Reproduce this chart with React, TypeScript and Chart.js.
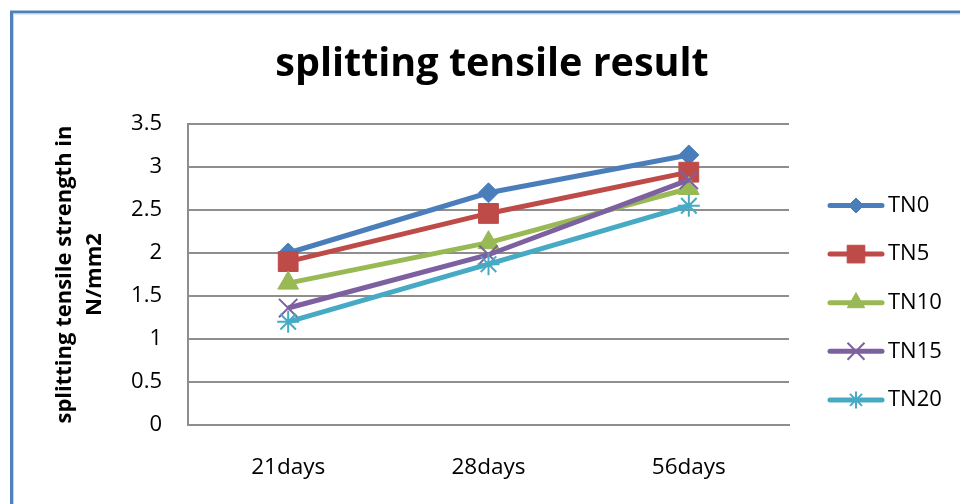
import React, { useEffect, useRef } from "react";
import { Chart, registerables } from "chart.js";
import { drawPoint } from "chart.js/helpers";

Chart.register(...registerables);

const categories = ["21days", "28days", "56days"];
const seriesNames = ["TN0", "TN5", "TN10", "TN15", "TN20"];
const TN0 = [2.0, 2.7, 3.14];
const TN5 = [1.9, 2.46, 2.94];
const TN10 = [1.65, 2.12, 2.75];
const TN15 = [1.36, 1.98, 2.85];
const TN20 = [1.2, 1.87, 2.55];
const yTicks = { min: 0, max: 3.5, step: 0.5 };
const chartTitle = "splitting tensile result";
const yTitle = ["splitting tensile strength in", "N/mm2"];

const colors = ["#4A7EBB", "#BE4B48", "#98B954", "#7D60A0", "#46AAC5"];
const styles = ["rectRot", "rect", "triangle", "crossRot", "star"];
const radii = [10, 14, 12, 13, 11];
const legendRadii = [7.5, 12.5, 10, 12, 8.5];
const borderWidths = [1, 1, 1, 2, 2];

const FONT = "'Open Sans', 'Noto Sans', sans-serif";

const framePlugin = {
  id: "frame",
  beforeDraw(chart: any) {
    const ctx = chart.ctx;
    ctx.save();
    ctx.fillStyle = "#ffffff";
    ctx.fillRect(0, 0, chart.width, chart.height);
    ctx.strokeStyle = "#4F81BD";
    ctx.lineWidth = 3;
    ctx.beginPath();
    ctx.moveTo(11.5, chart.height + 10);
    ctx.lineTo(11.5, 12);
    ctx.lineTo(chart.width + 10, 12);
    ctx.stroke();
    ctx.strokeStyle = "#c9d6ea";
    ctx.lineWidth = 1;
    ctx.beginPath();
    ctx.moveTo(13.5, chart.height + 10);
    ctx.lineTo(13.5, 14);
    ctx.lineTo(chart.width + 10, 14);
    ctx.stroke();
    ctx.restore();
  },
};

const titlePlugin = {
  id: "customTitle",
  afterDraw(chart: any) {
    const ctx = chart.ctx;
    ctx.save();
    ctx.fillStyle = "#000";
    ctx.font = `bold 39.5px ${FONT}`;
    ctx.textAlign = "center";
    ctx.textBaseline = "alphabetic";
    ctx.fillText(chartTitle, 492, 76);
    ctx.restore();
  },
};

const legendPlugin = {
  id: "customLegend",
  afterDraw(chart: any) {
    const ctx = chart.ctx;
    const x0 = 830;
    const x1 = 882;
    const yStart = 205.5;
    const step = 48.6;
    chart.data.datasets.forEach((ds: any, i: number) => {
      const y = yStart + i * step;
      ctx.save();
      ctx.strokeStyle = ds.borderColor;
      ctx.lineWidth = 5;
      ctx.lineCap = "round";
      ctx.beginPath();
      ctx.moveTo(x0, y);
      ctx.lineTo(x1, y);
      ctx.stroke();
      ctx.fillStyle = ds.pointBackgroundColor;
      ctx.strokeStyle = ds.pointBorderColor;
      ctx.lineWidth = ds.pointBorderWidth;
      ctx.lineCap = "butt";
      drawPoint(
        ctx,
        {
          pointStyle: ds.pointStyle,
          radius: legendRadii[i],
          rotation: 0,
          borderWidth: ds.pointBorderWidth,
        } as any,
        (x0 + x1) / 2,
        y
      );
      ctx.fillStyle = "#000";
      ctx.font = `22px ${FONT}`;
      ctx.textAlign = "left";
      ctx.textBaseline = "middle";
      ctx.fillText(ds.label, 888, y);
      ctx.restore();
    });
  },
};

export default function App() {
  const ref = useRef<HTMLCanvasElement | null>(null);

  useEffect(() => {
    if (!ref.current) return;
    const values = [TN0, TN5, TN10, TN15, TN20];
    const chart = new Chart(ref.current, {
      type: "line",
      data: {
        labels: categories,
        datasets: seriesNames.map((name, i) => ({
          label: name,
          data: values[i],
          borderColor: colors[i],
          backgroundColor: colors[i],
          pointBackgroundColor: colors[i],
          pointBorderColor: colors[i],
          pointBorderWidth: borderWidths[i],
          pointStyle: styles[i] as any,
          pointRadius: radii[i],
          pointHoverRadius: radii[i],
          borderWidth: 5,
          tension: 0,
          fill: false,
          order: seriesNames.length - i,
        })),
      },
      options: {
        responsive: false,
        animation: false,
        events: [],
        layout: { padding: { top: 124, left: 24, right: 171, bottom: 0 } },
        plugins: {
          legend: { display: false },
          title: { display: false },
          tooltip: { enabled: false },
        },
        scales: {
          x: {
            type: "category",
            offset: true,
            grid: { display: false, drawTicks: false },
            border: { display: true, color: "#8e8e8e", width: 2 },
            ticks: {
              color: "#000",
              font: { family: FONT, size: 22.5 },
              padding: 29,
              maxRotation: 0,
            },
            afterFit(scale: any) {
              scale.height = 79;
            },
          },
          y: {
            min: yTicks.min,
            max: yTicks.max,
            ticks: {
              stepSize: yTicks.step,
              color: "#000",
              font: { family: FONT, size: 22 },
              padding: 26,
              callback: (value: any) => `${Number(value)}`,
            },
            grid: { color: "#8e8e8e", lineWidth: 2, drawTicks: false },
            border: { display: true, color: "#8e8e8e", width: 2 },
            title: {
              display: true,
              text: yTitle,
              color: "#000",
              font: { family: FONT, size: 22, weight: "bold", lineHeight: 1.36 },
              padding: { top: 26, bottom: 0 },
            },
            afterFit(scale: any) {
              scale.width = 164;
            },
          },
        },
      },
      plugins: [framePlugin, titlePlugin, legendPlugin],
    });
    return () => chart.destroy();
  }, []);

  return (
    <div style={{ position: "absolute", left: 0, top: 0, width: 960, height: 504 }}>
      <canvas ref={ref} width={960} height={504} style={{ display: "block" }} />
    </div>
  );
}
